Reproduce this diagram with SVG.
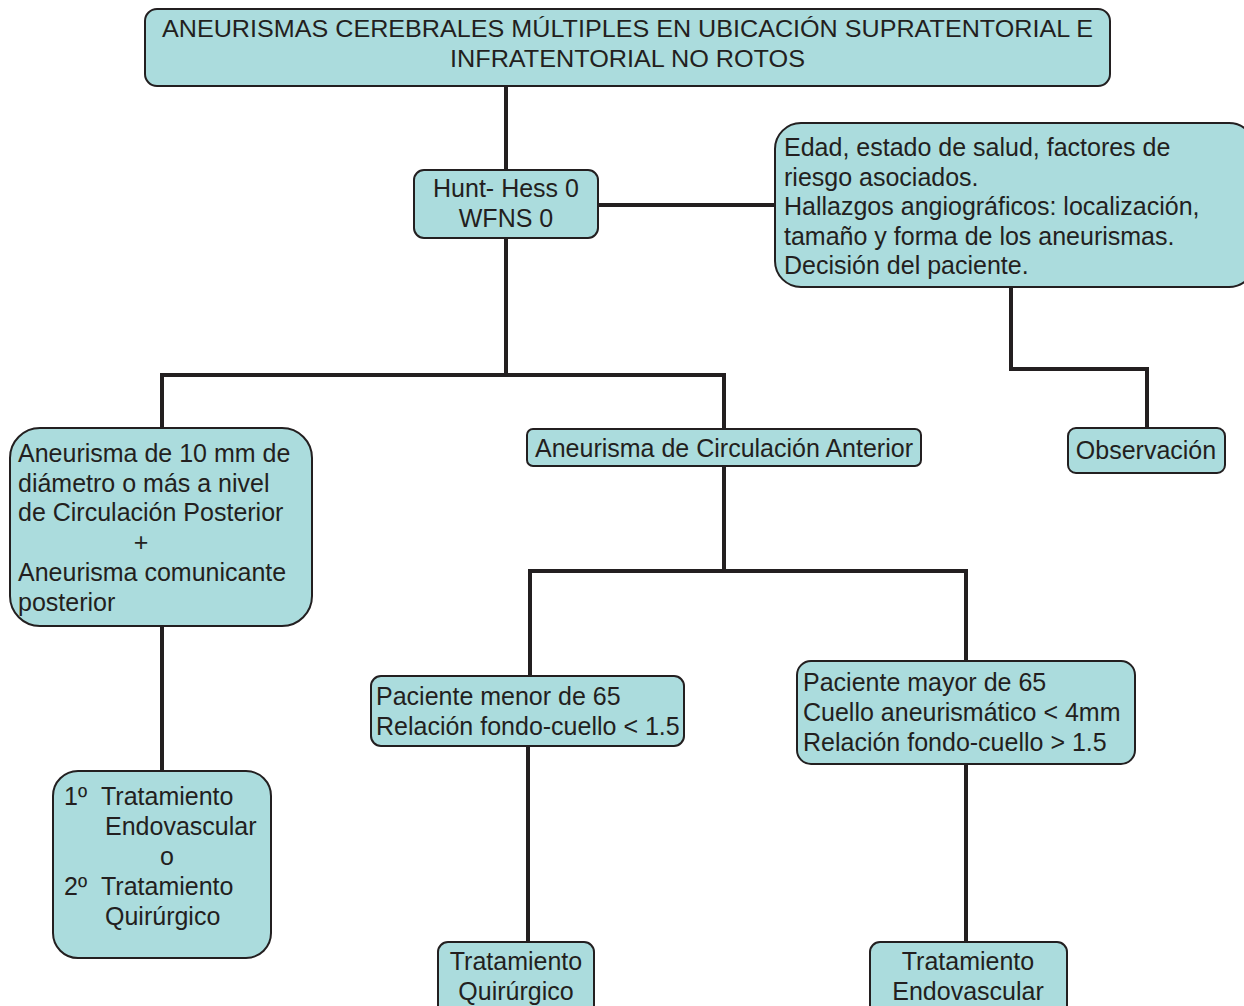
<svg xmlns="http://www.w3.org/2000/svg" width="1244" height="1006" viewBox="0 0 1244 1006">
<style>
.box{fill:#abdcdd;stroke:#231f20;stroke-width:2}
.t{font-family:"Liberation Sans",Arial,sans-serif;font-size:25px;fill:#231f20}
.c{text-anchor:middle}
.ln{fill:none;stroke:#231f20;stroke-width:4;stroke-linejoin:miter}
</style>
<rect width="1244" height="1006" fill="#ffffff"/>
<g id="connectors">
<path class="ln" d="M506 86 V170"/>
<path class="ln" d="M598 205 H775"/>
<path class="ln" d="M506 238 V375 M162 428 V375 H724 V429"/>
<path class="ln" d="M1011 287 V369 H1147 V428"/>
<path class="ln" d="M162 626 V771"/>
<path class="ln" d="M724 466 V571 M530 676 V571 H966 V661"/>
<path class="ln" d="M528 746 V943"/>
<path class="ln" d="M966 764 V942"/>
</g>
<g id="n-title">
<rect class="box" x="145" y="9" width="965" height="77" rx="12"/>
<text class="t" x="162" y="37" style="font-size:23px" textLength="931" lengthAdjust="spacingAndGlyphs">ANEURISMAS CEREBRALES MÚLTIPLES EN UBICACIÓN SUPRATENTORIAL E</text>
<text class="t" x="450" y="67" style="font-size:23px" textLength="355" lengthAdjust="spacingAndGlyphs">INFRATENTORIAL NO ROTOS</text>
</g>
<g id="n-hunt">
<rect class="box" x="414" y="170" width="184" height="68" rx="10"/>
<text class="t c" x="506" y="197">Hunt- Hess 0</text>
<text class="t c" x="506" y="227">WFNS 0</text>
</g>
<g id="n-factores">
<rect class="box" x="775" y="123" width="480" height="164" rx="26"/>
<text class="t" x="784" y="156">Edad, estado de salud, factores de</text>
<text class="t" x="784" y="186">riesgo asociados.</text>
<text class="t" x="784" y="215">Hallazgos angiográficos: localización,</text>
<text class="t" x="784" y="245">tamaño y forma de los aneurismas.</text>
<text class="t" x="784" y="274">Decisión del paciente.</text>
</g>
<g id="n-posterior">
<rect class="box" x="10" y="428" width="302" height="198" rx="30"/>
<text class="t" x="18" y="462">Aneurisma de 10 mm de</text>
<text class="t" x="18" y="492">diámetro o más a nivel</text>
<text class="t" x="18" y="521">de Circulación Posterior</text>
<text class="t c" x="141" y="551">+</text>
<text class="t" x="18" y="581">Aneurisma comunicante</text>
<text class="t" x="18" y="611">posterior</text>
</g>
<g id="n-anterior">
<rect class="box" x="527" y="429" width="394" height="37" rx="6"/>
<text class="t" x="535" y="457">Aneurisma de Circulación Anterior</text>
</g>
<g id="n-observacion">
<rect class="box" x="1068" y="428" width="157" height="45" rx="8"/>
<text class="t c" x="1146" y="459">Observación</text>
</g>
<g id="n-tratamiento-post">
<rect class="box" x="53" y="771" width="218" height="187" rx="25"/>
<text class="t" x="64" y="805">1º</text>
<text class="t" x="101" y="805">Tratamiento</text>
<text class="t" x="105" y="835">Endovascular</text>
<text class="t c" x="167" y="865">o</text>
<text class="t" x="64" y="895">2º</text>
<text class="t" x="101" y="895">Tratamiento</text>
<text class="t" x="105" y="925">Quirúrgico</text>
</g>
<g id="n-menor">
<rect class="box" x="371" y="676" width="313" height="70" rx="10"/>
<text class="t" x="376" y="705">Paciente menor de 65</text>
<text class="t" x="376" y="735">Relación fondo-cuello &lt; 1.5</text>
</g>
<g id="n-mayor">
<rect class="box" x="797" y="661" width="338" height="103" rx="14"/>
<text class="t" x="803" y="691">Paciente mayor de 65</text>
<text class="t" x="803" y="721">Cuello aneurismático &lt; 4mm</text>
<text class="t" x="803" y="751">Relación fondo-cuello &gt; 1.5</text>
</g>
<g id="n-quirurgico">
<rect class="box" x="438" y="942" width="156" height="80" rx="10"/>
<text class="t c" x="516" y="970">Tratamiento</text>
<text class="t c" x="516" y="1000">Quirúrgico</text>
</g>
<g id="n-endovascular">
<rect class="box" x="870" y="942" width="197" height="80" rx="10"/>
<text class="t c" x="968" y="970">Tratamiento</text>
<text class="t c" x="968" y="1000">Endovascular</text>
</g>
</svg>
